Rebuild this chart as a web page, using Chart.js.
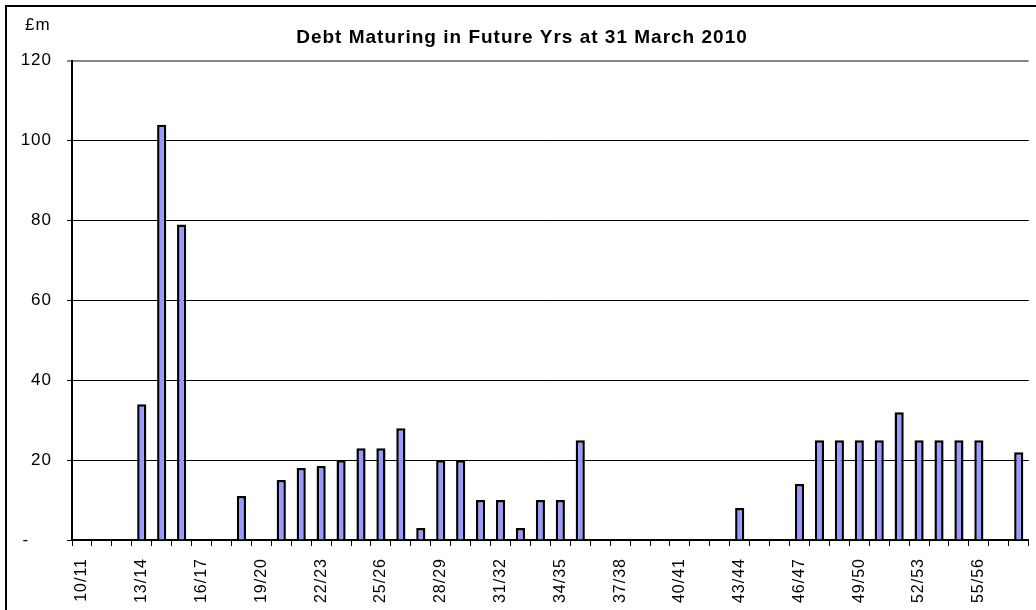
<!DOCTYPE html>
<html>
<head>
<meta charset="utf-8">
<title>Debt Maturing in Future Yrs</title>
<script src="https://cdn.jsdelivr.net/npm/chart.js@4"></script>
<style>
    html, body { margin: 0; padding: 0; overflow: hidden; background: #fff; }
    #frame { position: absolute; left: 5px; top: 5px; width: 1100px; height: 700px; border: 2px solid #000; }
    #wrap { position: absolute; left: 0; top: 0; width: 1050px; height: 660px; }
</style>
</head>
<body>
<div id="frame"></div>
<div id="wrap"><canvas id="debtChart"></canvas></div>
<script>
"use strict";

// Data (£m), one value per financial year
let YEARS = ["10/11", "11/12", "12/13", "13/14", "14/15", "15/16", "16/17", "17/18",
             "18/19", "19/20", "20/21", "21/22", "22/23", "23/24", "24/25", "25/26",
             "26/27", "27/28", "28/29", "29/30", "30/31", "31/32", "32/33", "33/34",
             "34/35", "35/36", "36/37", "37/38", "38/39", "39/40", "40/41", "41/42",
             "42/43", "43/44", "44/45", "45/46", "46/47", "47/48", "48/49", "49/50",
             "50/51", "51/52", "52/53", "53/54", "54/55", "55/56", "56/57", "57/58"];

let DEBT = [null, null, null, 34, 104, 79, null, null,
            11, null, 15, 18, 18.5, 20, 23, 23,
            28, 3, 20, 20, 10, 10, 3, 10,
            10, 25, null, null, null, null, null, null,
            null, 8, null, null, 14, 25, 25, 25,
            25, 32, 25, 25, 25, 25, null, 22];

let Y_TICKS = [0, 20, 40, 60, 80, 100, 120];

let FONT = "Arial, 'Liberation Sans', sans-serif";

// the original text is set slightly wide, so space the letters a bit
let wideText = {
    id: "wideText",
    beforeUpdate: function(chart) {
        chart.ctx.letterSpacing = "1px";
    },
    beforeDraw: function(chart) {
        chart.ctx.letterSpacing = "1px";
    }
};

// "£m" unit label above the value axis
let unitLabel = {
    id: "unitLabel",
    afterDraw: function(chart) {
        let ctx = chart.ctx;
        ctx.save();
        ctx.font = "17px " + FONT;
        ctx.fillStyle = "#000";
        ctx.textAlign = "left";
        ctx.textBaseline = "middle";
        ctx.fillText("£m", 25, 25);
        ctx.restore();
    }
};

let ctx_bar = document.getElementById("debtChart").getContext("2d");

let debtChart = new Chart(ctx_bar, {
    type: "bar",
    data: {
        labels: YEARS,
        datasets: [{
            data: DEBT,
            backgroundColor: "#9999ff",
            borderColor: "#000",
            borderWidth: 2.5,
            borderSkipped: "start",
            barPercentage: 0.46,
            categoryPercentage: 1
        }]
    },
    options: {
        responsive: true,
        maintainAspectRatio: false,
        animation: false,
        layout: {
            padding: { left: 0, right: 6, top: 0, bottom: 0 }
        },
        plugins: {
            legend: { display: false },
            tooltip: { enabled: false },
            title: {
                display: true,
                text: "Debt Maturing in Future Yrs at 31 March 2010",
                color: "#000",
                font: { family: FONT, size: 19, weight: "bold" },
                padding: { top: 26, bottom: 12 }
            }
        },
        scales: {
            x: {
                grid: {
                    display: true,
                    drawOnChartArea: false,
                    drawTicks: true,
                    tickLength: 6,
                    color: "#000",
                    offset: true
                },
                border: { display: true, color: "#000", width: 2 },
                ticks: {
                    autoSkip: false,
                    maxRotation: 90,
                    minRotation: 90,
                    padding: 12,
                    color: "#000",
                    font: { family: FONT, size: 16 },
                    callback: function(val, i) {
                        return i % 3 === 0 ? YEARS[i] : "";
                    }
                },
                afterFit: function(scale) {
                    scale.height = 120;
                }
            },
            y: {
                min: 0,
                max: 120,
                afterBuildTicks: function(scale) {
                    scale.ticks = Y_TICKS.map(function(v) { return { value: v }; });
                },
                grid: {
                    color: function(c) {
                        return c.tick && c.tick.value === 120 ? "#888" : "#000";
                    },
                    lineWidth: function(c) {
                        return c.tick && c.tick.value === 120 ? 2 : 1;
                    },
                    tickLength: 5
                },
                border: { display: true, color: "#000", width: 2 },
                ticks: {
                    padding: 15,
                    color: "#000",
                    font: { family: FONT, size: 17 },
                    callback: function(v) {
                        return v === 0 ? "-    " : v;
                    }
                },
                afterFit: function(scale) {
                    scale.width = 72;
                }
            }
        }
    },
    plugins: [wideText, unitLabel]
});
</script>
</body>
</html>
